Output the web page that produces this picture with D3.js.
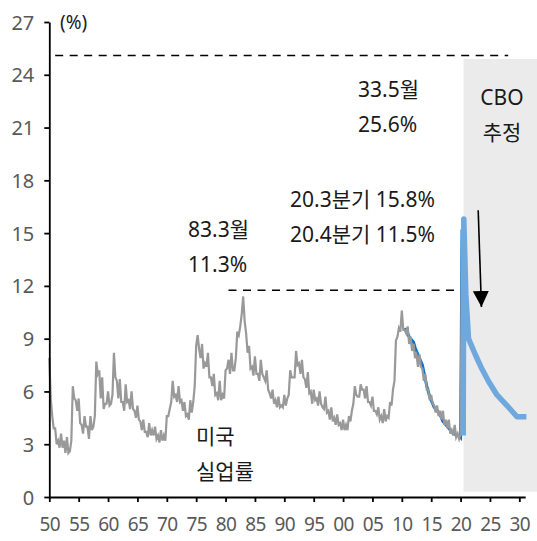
<!DOCTYPE html>
<html>
<head>
<meta charset="utf-8">
<script src="https://cdn.jsdelivr.net/npm/d3@7"></script>
<style>
  body { margin: 0; background: #fff; }
  svg text { font-family: "Noto Sans", "Noto Sans CJK KR", sans-serif; }
</style>
</head>
<body>
<svg id="chart" width="537" height="541"></svg>
<script>
// US unemployment rate (NSA), quarterly points from 1950.0
const rateStart = 1950, rateStep = 0.25;
const rate = [
  7.9, 5.6, 4.6, 3.9,   // 1950
  3.9, 3.0, 3.2, 2.8,
  3.6, 2.8, 3.2, 2.5,
  3.4, 2.5, 2.6, 3.2,
  6.3, 5.6, 5.5, 4.9,
  5.6, 4.2, 4.1, 3.6,   // 1955
  4.6, 4.0, 4.0, 3.3,
  4.6, 3.8, 4.0, 4.6,
  7.7, 7.0, 7.2, 5.6,
  6.8, 5.0, 5.3, 5.3,
  6.0, 5.2, 5.3, 5.8,   // 1960
  8.2, 6.8, 6.6, 5.6,
  6.7, 5.4, 5.4, 4.9,
  6.4, 5.4, 5.5, 5.0,
  6.0, 5.0, 4.9, 4.5,
  5.2, 4.4, 4.3, 3.8,   // 1965
  4.4, 3.7, 3.7, 3.4,
  4.2, 3.5, 3.8, 3.5,
  4.0, 3.3, 3.5, 3.1,
  3.8, 3.2, 3.5, 3.2,
  4.6, 4.6, 5.0, 5.4,   // 1970
  6.6, 5.7, 5.8, 5.4,
  6.3, 5.4, 5.5, 4.9,
  5.4, 4.6, 4.7, 4.4,
  5.5, 4.8, 5.4, 6.3,
  8.6, 9.2, 8.4, 7.9,   // 1975
  8.7, 7.3, 7.6, 7.4,
  8.2, 6.8, 6.8, 6.3,
  7.0, 5.8, 5.9, 5.5,
  6.6, 5.5, 5.8, 5.6,
  7.2, 7.3, 7.8, 7.0,   // 1980
  8.2, 7.2, 7.2, 7.9,
  9.4, 9.2, 9.7, 10.4,
  11.4, 10.0, 9.3, 8.2,
  8.6, 7.3, 7.4, 6.9,
  8.0, 7.0, 7.0, 6.6,   // 1985
  7.8, 7.0, 6.8, 6.6,
  7.2, 6.1, 5.9, 5.6,
  6.1, 5.3, 5.5, 5.1,
  5.7, 5.1, 5.2, 5.1,
  5.8, 5.2, 5.6, 5.8,   // 1990
  7.2, 6.8, 6.8, 6.8,
  8.3, 7.5, 7.6, 7.0,
  7.8, 6.8, 6.7, 6.2,
  7.1, 5.9, 6.0, 5.3,
  6.1, 5.5, 5.6, 5.2,   // 1995
  6.0, 5.3, 5.1, 5.0,
  5.7, 4.8, 4.9, 4.4,
  5.1, 4.3, 4.5, 4.1,
  4.7, 4.1, 4.2, 3.8,
  4.4, 3.8, 4.1, 3.8,   // 2000
  4.6, 4.3, 4.9, 5.3,
  6.3, 5.8, 5.7, 5.7,
  6.4, 6.1, 6.1, 5.6,
  6.3, 5.4, 5.4, 5.2,
  5.7, 4.9, 4.9, 4.7,   // 2005
  5.1, 4.4, 4.6, 4.2,
  5.0, 4.3, 4.6, 4.5,
  5.4, 5.2, 6.1, 6.6,
  8.9, 9.1, 9.6, 9.4,
  10.6, 9.5, 9.5, 9.3,  // 2010
  9.7, 8.7, 9.1, 8.3,
  8.7, 7.9, 8.1, 7.4,
  8.1, 7.4, 7.3, 6.6,
  7.0, 6.1, 6.1, 5.5,
  5.8, 5.3, 5.2, 4.8,   // 2015
  5.2, 4.6, 4.9, 4.4,
  4.9, 4.1, 4.4, 3.9,
  4.4, 3.6, 3.8, 3.5,
  4.1, 3.4, 3.6, 3.3,
  3.6, 14.7             // 2020
];

// second (dark blue) series, quarterly from 2010.5
const altStart = 2010.5, altStep = 0.25;
const altRate = [
  9.6, 9.4, 9.3, 9.1, 9.0, 8.9, 8.8, 8.5, 8.3, 8.1,
  7.9, 7.7, 7.5, 7.1, 6.7, 6.3, 6.0, 5.7, 5.5, 5.3,
  5.1, 5.0, 4.9, 4.8, 4.7, 4.5, 4.3, 4.2, 4.1, 4.0,
  3.9, 3.8, 3.7, 3.6, 3.6, 3.5, 3.5, 3.5, 3.4, 15.2
];

// CBO projection
const cboYears = [2020.45, 2020.55, 2020.9, 2021.35, 2022.5, 2023.6, 2024.8, 2026.2, 2027.9, 2029.6, 2031.2];
const cboRate  = [3.5, 15.8, 11.5, 9.0, 8.1, 7.3, 6.55, 5.8, 5.2, 4.56, 4.56];

const yTicks = [0, 3, 6, 9, 12, 15, 18, 21, 24, 27];
const xTicks = [1950, 1955, 1960, 1965, 1970, 1975, 1980, 1985, 1990, 1995, 2000, 2005, 2010, 2015, 2020, 2025, 2030];
const xTickLabels = ["50", "55", "60", "65", "70", "75", "80", "85", "90", "95", "00", "05", "10", "15", "20", "25", "30"];

const svg = d3.select("#chart");

const x = d3.scaleLinear().domain([1950, 2031]).range([49.3, 525.2]);
const y = d3.scaleLinear().domain([0, 27]).range([497, 22]);

// CBO shaded area
svg.append("rect")
  .attr("x", x(2020.5))
  .attr("y", y(24.9))
  .attr("width", 537 - x(2020.5))
  .attr("height", y(0.3) - y(24.9))
  .attr("fill", "#ebebeb");

// reference dashed lines
const dashed = [
  { from: 1951, to: 2028.1, v: 25.1 },
  { from: 1980.5, to: 2020.5, v: 11.75 }
];
svg.selectAll(".ref")
  .data(dashed)
  .join("line")
  .attr("class", "ref")
  .attr("x1", d => x(d.from))
  .attr("x2", d => x(d.to))
  .attr("y1", d => y(d.v))
  .attr("y2", d => y(d.v))
  .attr("stroke", "#000")
  .attr("stroke-width", 1.6)
  .attr("stroke-dasharray", "8,6.5");

const line = d3.line().x(d => x(d[0])).y(d => y(d[1]));

const altPts = altRate.map((v, i) => [altStart + i * altStep, v]);
svg.append("path")
  .attr("d", line(altPts))
  .attr("fill", "none")
  .attr("stroke", "#0a72cc")
  .attr("stroke-width", 3);

const ratePts = rate.map((v, i) => [rateStart + i * rateStep, v]);
svg.append("path")
  .attr("d", line(ratePts))
  .attr("fill", "none")
  .attr("stroke", "#999")
  .attr("stroke-width", 2.2);

const cboPts = cboYears.map((yr, i) => [yr, cboRate[i]]);
svg.append("path")
  .attr("d", line(cboPts))
  .attr("fill", "none")
  .attr("stroke", "#6fa8dc")
  .attr("stroke-width", 5.5)
  .attr("stroke-linejoin", "round");

// axes
const yAxis = d3.axisLeft(y).tickValues(yTicks).tickSize(5).tickSizeOuter(0);
const gy = svg.append("g").attr("transform", `translate(${x(1950)},0)`).call(yAxis);
const xAxis = d3.axisBottom(x).tickValues(xTicks).tickSize(5).tickSizeOuter(0)
  .tickFormat((d, i) => xTickLabels[i]);
const gx = svg.append("g").attr("transform", `translate(0,${y(0)})`).call(xAxis);

[gx, gy].forEach(g => {
  g.select(".domain").attr("stroke", "#000").attr("stroke-width", 1.8);
  g.selectAll(".tick line").attr("stroke", "#000").attr("stroke-width", 1.8);
  g.selectAll("text").attr("fill", "#595959").attr("font-family", null);
});
gy.selectAll("text").attr("font-size", 20).attr("x", -15).attr("dy", "0.35em");
gx.selectAll("text").attr("font-size", 19).attr("y", 21).attr("dy", "0.71em").attr("letter-spacing", -0.6);

// arrow
svg.append("defs").append("marker")
  .attr("id", "head")
  .attr("viewBox", "0 0 10 10")
  .attr("refX", 10).attr("refY", 5)
  .attr("markerWidth", 16).attr("markerHeight", 16)
  .attr("markerUnits", "userSpaceOnUse")
  .attr("orient", "auto")
  .append("path").attr("d", "M0,0 L10,5 L0,10 Z").attr("fill", "#000");
svg.append("line")
  .attr("x1", x(2023.0)).attr("y1", y(16.3))
  .attr("x2", x(2023.55)).attr("y2", y(10.8))
  .attr("stroke", "#000").attr("stroke-width", 1.6)
  .attr("marker-end", "url(#head)");

// labels
const notes = [
  { t: "(%)", x: 60, y: 29, size: 19 },
  { t: "33.5월", x: 358, y: 97 },
  { t: "25.6%", x: 358, y: 132 },
  { t: "CBO", x: 502, y: 105, anchor: "middle" },
  { t: "추정", x: 502, y: 140, anchor: "middle" },
  { t: "20.3분기 15.8%", x: 290, y: 207 },
  { t: "20.4분기 11.5%", x: 290, y: 242 },
  { t: "83.3월", x: 188, y: 237 },
  { t: "11.3%", x: 188, y: 272 },
  { t: "미국", x: 196, y: 444 },
  { t: "실업률", x: 196, y: 479 }
];
svg.selectAll(".note")
  .data(notes)
  .join("text")
  .attr("class", "note")
  .attr("x", d => d.x)
  .attr("y", d => d.y)
  .attr("text-anchor", d => d.anchor || "start")
  .attr("font-size", d => d.size || 21)
  .attr("fill", "#1a1a1a")
  .text(d => d.t);
</script>
</body>
</html>
